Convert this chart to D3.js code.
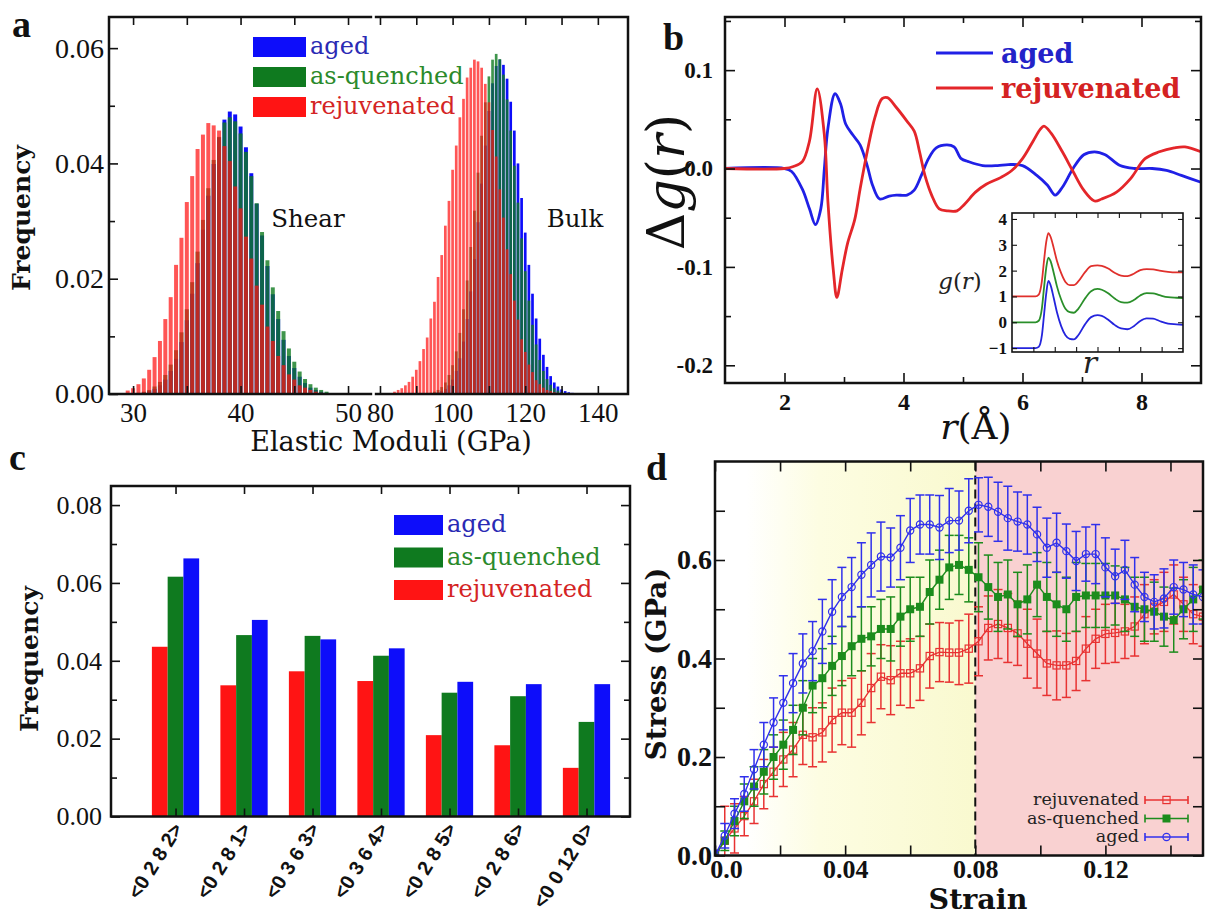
<!DOCTYPE html>
<html>
<head>
<meta charset="utf-8">
<script src="https://cdn.jsdelivr.net/npm/d3@7"></script>
<style>
  body { margin: 0; background: #fff; }
  svg { display: block; }
</style>
</head>
<body>
<svg id="fig" width="1206" height="917"></svg>
<script>
// ---- panel a: elastic moduli histograms (bin centres in GPa) ----
const shearBins = d3.range(29.5, 48.01, 0.5);
const bulkBins = d3.range(84, 136.5, 1);

const shearAged = [0, .0001, .0001, .0003, .0005, .0009, .0015, .0025, .0040, .0061, .0090, .0128, .0174, .0227,
  .0285, .0344, .0399, .0445, .0476, .0490, .0485, .0464, .0428, .0383, .0330, .0275, .0222, .0173, .0130, .0094,
  .0066, .0045, .0030, .0019, .0011, .0007, .0004, .0002];
const shearAsq = [.0001, .0001, .0002, .0004, .0007, .0013, .0021, .0033, .0051, .0076, .0107, .0147, .0194, .0247,
  .0302, .0357, .0406, .0446, .0471, .0480, .0473, .0452, .0420, .0378, .0331, .0281, .0232, .0185, .0144, .0109,
  .0079, .0056, .0039, .0026, .0017, .0011, .0007, .0004];
const shearRej = [.0006, .0010, .0017, .0027, .0042, .0064, .0092, .0130, .0168, .0224, .0271, .0333, .0378, .0425,
  .0450, .0470, .0466, .0457, .0430, .0404, .0360, .0322, .0273, .0235, .0188, .0155, .0117, .0092, .0066, .0050,
  .0034, .0025, .0015, .0011, .0007, .0004, .0002, .0001];

const bulkAged = [0, 0, 0, 0, 0, 0, 0, 0, 0, 0, 0, .0001, .0003, .0005, .0009, .0015, .0025, .0040, .0062, .0091,
  .0130, .0178, .0234, .0298, .0365, .0431, .0491, .0539, .0569, .0580, .0571, .0547, .0507, .0457, .0400, .0340,
  .0280, .0224, .0174, .0131, .0096, .0068, .0047, .0031, .0020, .0013, .0008, .0005, .0003, .0002, .0001, 0, 0];
const bulkAsq = [0, 0, 0, 0, 0, 0, 0, 0, 0, 0, .0002, .0004, .0007, .0012, .0020, .0033, .0050, .0074, .0106, .0147,
  .0197, .0255, .0318, .0384, .0448, .0506, .0551, .0580, .0590, .0581, .0554, .0511, .0457, .0396, .0332, .0270,
  .0213, .0162, .0120, .0086, .0059, .0040, .0026, .0016, .0010, .0006, .0003, .0002, .0001, 0, 0, 0, 0];
const bulkRej = [.0004, .0007, .0010, .0015, .0021, .0030, .0042, .0057, .0078, .0098, .0131, .0160, .0203, .0241,
  .0292, .0335, .0389, .0431, .0480, .0512, .0549, .0566, .0580, .0577, .0566, .0538, .0506, .0458, .0412, .0355,
  .0306, .0251, .0208, .0162, .0129, .0095, .0073, .0051, .0038, .0024, .0017, .0011, .0007, .0005, .0003, .0002,
  .0001, 0, 0, 0, 0, 0, 0];

// ---- panel b: delta g(r) ----
const dgAgedR = [1.0, 2.0, 2.12, 2.3, 2.42, 2.52, 2.61, 2.67, 2.73, 2.85, 2.94, 3.03, 3.15, 3.27, 3.39, 3.48, 3.6, 3.76,
  3.88, 4.06, 4.18, 4.3, 4.42, 4.55, 4.73, 4.85, 4.97, 5.09, 5.33, 5.58, 5.76, 6.0, 6.24, 6.42, 6.55, 6.67, 6.85, 7.03,
  7.21, 7.39, 7.64, 7.88, 8.18, 8.42, 8.67, 9.0];
const dgAged = [0, 0, -0.003, -0.021, -0.041, -0.057, -0.041, 0, 0.041, 0.076, 0.066, 0.045, 0.034, 0.024, 0.003,
  -0.017, -0.031, -0.028, -0.027, -0.027, -0.022, -0.007, 0.010, 0.021, 0.024, 0.022, 0.010, 0.007, 0.003, 0.003,
  0.004, 0.003, -0.007, -0.017, -0.027, -0.019, 0, 0.014, 0.017, 0.014, 0.003, 0, 0, -0.002, -0.007, -0.014];
const dgRejR = [1.0, 2.0, 2.15, 2.3, 2.42, 2.55, 2.67, 2.73, 2.82, 2.88, 2.97, 3.06, 3.18, 3.27, 3.39, 3.52, 3.64, 3.73,
  3.88, 4.06, 4.18, 4.27, 4.36, 4.48, 4.6, 4.73, 4.9, 5.03, 5.21, 5.39, 5.64, 5.82, 6.0, 6.18, 6.3, 6.36, 6.48, 6.67,
  6.85, 7.03, 7.21, 7.33, 7.58, 7.82, 8.06, 8.3, 8.55, 8.73, 9.0];
const dgRej = [0, 0, 0.002, 0.007, 0.028, 0.081, 0.034, -0.034, -0.103, -0.131, -0.103, -0.076, -0.052, -0.021, 0.017,
  0.052, 0.071, 0.072, 0.062, 0.048, 0.038, 0.017, -0.007, -0.028, -0.041, -0.043, -0.043, -0.036, -0.024, -0.016,
  -0.009, -0.002, 0.010, 0.028, 0.040, 0.043, 0.036, 0.017, -0.003, -0.022, -0.033, -0.031, -0.024, -0.010, 0.010,
  0.017, 0.021, 0.022, 0.017];

// inset g(r), drawn with vertical offsets -1 / 0 / +1
const gR = [1, 2.1, 2.25, 2.4, 2.5, 2.6, 2.7, 2.8, 2.95, 3.1, 3.3, 3.5, 3.7, 3.9, 4.1, 4.4, 4.7, 5.0, 5.2, 5.5, 5.8,
  6.1, 6.4, 6.7, 7.0, 7.3, 7.6, 7.9, 8.3, 8.7, 9.0];
const gAged = [0, 0, 0.05, 0.5, 1.3, 2.1, 2.6, 2.45, 1.95, 1.4, 0.85, 0.5, 0.36, 0.34, 0.5, 0.9, 1.2, 1.28, 1.25, 1.1,
  0.9, 0.76, 0.73, 0.85, 1.05, 1.15, 1.14, 1.05, 0.95, 0.92, 0.9];
const gAsq = [0, 0, 0.06, 0.55, 1.35, 2.1, 2.5, 2.38, 1.92, 1.4, 0.88, 0.52, 0.39, 0.37, 0.52, 0.9, 1.2, 1.29, 1.26,
  1.12, 0.92, 0.78, 0.76, 0.86, 1.04, 1.13, 1.12, 1.05, 0.97, 0.95, 0.94];
const gRej = [0, 0, 0.07, 0.6, 1.4, 2.1, 2.45, 2.32, 1.88, 1.38, 0.9, 0.56, 0.44, 0.44, 0.58, 0.92, 1.17, 1.2, 1.18,
  1.08, 0.92, 0.81, 0.79, 0.88, 1.02, 1.06, 1.05, 1.0, 0.95, 0.93, 0.93];
const gOffsets = [-1, 0, 1];

// ---- panel c: Voronoi index frequencies ----
const cCategories = ['<0 2 8 2>', '<0 2 8 1>', '<0 3 6 3>', '<0 3 6 4>', '<0 2 8 5>', '<0 2 8 6>', '<0 0 12 0>'];
const cAged = [0.0663, 0.0505, 0.0455, 0.0432, 0.0346, 0.0340, 0.0340];
const cAsq = [0.0616, 0.0466, 0.0464, 0.0413, 0.0318, 0.0309, 0.0243];
const cRej = [0.0436, 0.0337, 0.0373, 0.0348, 0.0209, 0.0183, 0.0125];

// ---- panel d: stress-strain with error bars ----
const strain = d3.range(0, 0.1501, 0.003);
const stressAged = [0, .04, .085, .125, .175, .225, .27, .31, .35, .39, .415, .455, .495, .525, .545, .57, .59, .607,
  .605, .625, .66, .672, .672, .666, .68, .68, .70, .712, .708, .698, .685, .678, .672, .652, .625, .635, .618, .598,
  .612, .612, .585, .567, .58, .55, .525, .515, .522, .545, .54, .53, .525];
const stressAsq = [0, .03, .07, .11, .14, .17, .20, .225, .255, .30, .345, .36, .385, .405, .425, .44, .445, .46, .46,
  .485, .50, .505, .535, .56, .585, .59, .58, .565, .545, .525, .53, .51, .52, .55, .525, .51, .50, .525, .528, .528,
  .528, .528, .52, .505, .50, .495, .485, .478, .50, .52, .54];
const stressRej = [0, .03, .055, .08, .11, .145, .17, .195, .215, .245, .24, .25, .275, .29, .29, .31, .34, .363, .356,
  .37, .37, .38, .405, .413, .412, .412, .42, .435, .462, .47, .462, .451, .43, .41, .39, .386, .386, .395, .42, .44,
  .45, .452, .455, .465, .49, .505, .515, .53, .51, .49, .485];
const errAged = [.01, .025, .03, .035, .04, .045, .05, .055, .06, .06, .06, .065, .065, .06, .06, .065, .065, .07, .06,
  .065, .065, .06, .06, .065, .065, .06, .065, .055, .06, .06, .065, .06, .06, .055, .06, .06, .055, .06, .055, .06,
  .06, .055, .06, .055, .05, .055, .06, .055, .055, .06, .055];
const errAsq = [.01, .02, .03, .035, .04, .045, .045, .05, .05, .055, .055, .06, .06, .06, .06, .065, .06, .06, .065,
  .06, .065, .06, .065, .06, .065, .06, .065, .07, .065, .07, .07, .065, .07, .065, .07, .065, .065, .07, .065, .065,
  .065, .06, .065, .06, .065, .06, .06, .065, .06, .065, .06];
const errRej = [.01, .07, .05, .04, .045, .05, .05, .055, .055, .06, .06, .06, .065, .065, .07, .065, .07, .065, .07,
  .065, .07, .065, .065, .06, .06, .065, .07, .07, .065, .07, .07, .065, .07, .07, .065, .07, .065, .06, .065, .06,
  .06, .06, .055, .06, .06, .055, .06, .06, .055, .06, .06];

const seriesNames = ['aged', 'as-quenched', 'rejuvenated'];

// ---------------------------------------------------------------
const SERIF = "'DejaVu Serif', serif";
const NUM = "'Liberation Serif', 'Times New Roman', serif";
const SANS = "'Liberation Sans', Arial, sans-serif";
const FILL = ['#0d0dfa', '#0f7a1f', '#ff1414'];
const TEXT = ['#2a2ab4', '#2b8a2b', '#d42424'];

const svg = d3.select('#fig');

function styleAxis(g, size, weight) {
  g.select('.domain').remove();
  g.selectAll('.tick line').attr('stroke', '#111').attr('stroke-width', 1.6);
  g.selectAll('.tick text')
    .attr('font-family', NUM)
    .attr('font-size', size)
    .attr('font-weight', weight)
    .attr('fill', '#111');
  return g;
}

function frame(g, x0, y0, x1, y1, w) {
  g.append('rect')
    .attr('x', x0).attr('y', y0)
    .attr('width', x1 - x0).attr('height', y1 - y0)
    .attr('fill', 'none').attr('stroke', '#111').attr('stroke-width', w || 2.5);
}

function panelLetter(ch, x, y) {
  svg.append('text').attr('x', x).attr('y', y).text(ch)
    .attr('font-family', NUM).attr('font-weight', 'bold').attr('font-size', 38).attr('fill', '#111');
}

function vLabel(g, x, y, size, weight) {
  return g.append('text')
    .attr('transform', `translate(${x},${y}) rotate(-90)`)
    .attr('text-anchor', 'middle')
    .attr('font-family', SERIF).attr('font-size', size).attr('font-weight', weight).attr('fill', '#111');
}

// =================== panel a ===================
(function () {
  const g = svg.append('g');
  const y = d3.scaleLinear().domain([0, 0.0654]).range([394, 17]);
  const xL = d3.scaleLinear().domain([27.76, 52.23]).range([109, 372]);
  const xR = d3.scaleLinear().domain([78.63, 148.3]).range([375, 628]);

  function hist(x, bins, values, step, color, opacity) {
    const w = (x(step) - x(0)) * 0.74;
    g.append('g').selectAll('rect').data(values).join('rect')
      .attr('x', (d, i) => x(bins[i]) - w / 2)
      .attr('y', d => y(d))
      .attr('width', w)
      .attr('height', d => y(0) - y(d))
      .attr('fill', color).attr('fill-opacity', opacity);
  }
  const opac = [1, 0.8, 0.72];
  [shearAged, shearAsq, shearRej].forEach((v, k) => hist(xL, shearBins, v, 0.5, FILL[k], opac[k]));
  [bulkAged, bulkAsq, bulkRej].forEach((v, k) => hist(xR, bulkBins, v, 1, FILL[k], opac[k]));

  // axes
  const lab10 = d => (d % 10 === 0 ? d : '');
  const labR = d => ([80, 100, 120, 140].includes(d) ? d : '');
  styleAxis(g.append('g').attr('transform', 'translate(0,394)')
    .call(d3.axisBottom(xL).tickValues([30, 35, 40, 45, 50]).tickSize(-8).tickPadding(9).tickFormat(lab10)), 27, 'normal');
  styleAxis(g.append('g').attr('transform', 'translate(0,394)')
    .call(d3.axisBottom(xR).tickValues([80, 90, 100, 110, 120, 130, 140]).tickSize(-8).tickPadding(9).tickFormat(labR)), 27, 'normal');
  styleAxis(g.append('g').attr('transform', 'translate(0,17)')
    .call(d3.axisTop(xL).tickValues([30, 35, 40, 45, 50]).tickSize(-8).tickFormat('')), 10, 'normal');
  styleAxis(g.append('g').attr('transform', 'translate(0,17)')
    .call(d3.axisTop(xR).tickValues([80, 90, 100, 110, 120, 130, 140]).tickSize(-8).tickFormat('')), 10, 'normal');
  styleAxis(g.append('g').attr('transform', 'translate(109,0)')
    .call(d3.axisLeft(y).tickValues([0, 0.02, 0.04, 0.06]).tickSize(-9).tickPadding(5).tickFormat(d => d.toFixed(2))), 28, 'normal');
  styleAxis(g.append('g').attr('transform', 'translate(109,0)')
    .call(d3.axisLeft(y).tickValues([0.01, 0.03, 0.05]).tickSize(-6).tickFormat('')), 10, 'normal');

  frame(g, 109, 17, 628, 394);
  // axis break between the two scales
  g.append('rect').attr('x', 372.2).attr('y', 13).attr('width', 2.6).attr('height', 8).attr('fill', '#fff');
  g.append('rect').attr('x', 372.2).attr('y', 390).attr('width', 2.6).attr('height', 8).attr('fill', '#fff');

  // legend
  seriesNames.forEach((name, k) => {
    g.append('rect').attr('x', 253).attr('y', 37 + k * 30).attr('width', 53).attr('height', 20).attr('fill', FILL[k]);
    g.append('text').attr('x', 310).attr('y', 54 + k * 30).text(name)
      .attr('font-family', SERIF).attr('font-size', 24).attr('fill', TEXT[k]);
  });
  g.append('text').attr('x', 308).attr('y', 227).attr('text-anchor', 'middle').text('Shear')
    .attr('font-family', SERIF).attr('font-size', 24.5).attr('fill', '#111');
  g.append('text').attr('x', 575).attr('y', 227).attr('text-anchor', 'middle').text('Bulk')
    .attr('font-family', SERIF).attr('font-size', 24.5).attr('fill', '#111');

  g.append('text').attr('x', 391).attr('y', 451).attr('text-anchor', 'middle').text('Elastic Moduli (GPa)')
    .attr('font-family', SERIF).attr('font-size', 27).attr('fill', '#111');
  vLabel(g, 30, 218, 25, 'bold').text('Frequency');
  panelLetter('a', 12, 37);
})();

// =================== panel b ===================
(function () {
  const g = svg.append('g');
  const x = d3.scaleLinear().domain([1, 9]).range([725, 1201]);
  const y = d3.scaleLinear().domain([-0.218, 0.154]).range([383, 17]);
  const line = d3.line().x(d => x(d[0])).y(d => y(d[1])).curve(d3.curveCatmullRom.alpha(0.5));

  g.append('path').datum(dgAgedR.map((r, i) => [r, dgAged[i]])).attr('d', line)
    .attr('fill', 'none').attr('stroke', '#2020e6').attr('stroke-width', 2.8);
  g.append('path').datum(dgRejR.map((r, i) => [r, dgRej[i]])).attr('d', line)
    .attr('fill', 'none').attr('stroke', '#e4262a').attr('stroke-width', 2.8);

  styleAxis(g.append('g').attr('transform', 'translate(0,383)')
    .call(d3.axisBottom(x).tickValues([2, 4, 6, 8]).tickSize(-10).tickPadding(10)), 24, 'bold');
  styleAxis(g.append('g').attr('transform', 'translate(0,383)')
    .call(d3.axisBottom(x).tickValues([3, 5, 7]).tickSize(-6).tickFormat('')), 10, 'bold');
  styleAxis(g.append('g').attr('transform', 'translate(0,17)')
    .call(d3.axisTop(x).tickValues([2, 4, 6, 8]).tickSize(-10).tickFormat('')), 10, 'bold');
  styleAxis(g.append('g').attr('transform', 'translate(0,17)')
    .call(d3.axisTop(x).tickValues([3, 5, 7]).tickSize(-6).tickFormat('')), 10, 'bold');
  styleAxis(g.append('g').attr('transform', 'translate(725,0)')
    .call(d3.axisLeft(y).tickValues([-0.2, -0.1, 0, 0.1]).tickSize(-10).tickPadding(12).tickFormat(d => d.toFixed(1))), 23, 'bold');
  styleAxis(g.append('g').attr('transform', 'translate(725,0)')
    .call(d3.axisLeft(y).tickValues([-0.15, -0.05, 0.05, 0.15]).tickSize(-6).tickFormat('')), 10, 'bold');
  styleAxis(g.append('g').attr('transform', 'translate(1201,0)')
    .call(d3.axisRight(y).tickValues([-0.2, -0.1, 0, 0.1]).tickSize(-10).tickFormat('')), 10, 'bold');
  styleAxis(g.append('g').attr('transform', 'translate(1201,0)')
    .call(d3.axisRight(y).tickValues([-0.15, -0.05, 0.05, 0.15]).tickSize(-6).tickFormat('')), 10, 'bold');
  frame(g, 725, 17, 1201, 383);

  // legend
  [['aged', '#2020e6', '#2323c8'], ['rejuvenated', '#e4262a', '#d42222']].forEach((d, k) => {
    g.append('line').attr('x1', 936).attr('x2', 993).attr('y1', 53 + k * 35).attr('y2', 53 + k * 35)
      .attr('stroke', d[1]).attr('stroke-width', 3);
    g.append('text').attr('x', 1001).attr('y', 63 + k * 35).text(d[0])
      .attr('font-family', SERIF).attr('font-weight', 'bold').attr('font-size', 27).attr('fill', d[2]);
  });

  // axis titles
  const yl = vLabel(g, 684, 182, 52, 'normal');
  yl.append('tspan').text('Δ');
  yl.append('tspan').attr('font-style', 'italic').text('g');
  yl.append('tspan').text('(');
  yl.append('tspan').attr('font-style', 'italic').text('r');
  yl.append('tspan').text(')');
  const xl = g.append('text').attr('x', 976).attr('y', 439).attr('text-anchor', 'middle')
    .attr('font-family', SERIF).attr('font-size', 36).attr('fill', '#111');
  xl.append('tspan').attr('font-style', 'italic').text('r');
  xl.append('tspan').text('(Å)');

  // inset
  const ix = d3.scaleLinear().domain([1, 9]).range([1012, 1183]);
  const iy = d3.scaleLinear().domain([-1.15, 4.23]).range([352, 213]);
  g.append('rect').attr('x', 1012).attr('y', 213).attr('width', 171).attr('height', 139).attr('fill', '#fff');
  const iline = d3.line().x(d => ix(d[0])).y(d => iy(d[1])).curve(d3.curveMonotoneX);
  [gAged, gAsq, gRej].forEach((vals, k) => {
    g.append('path').datum(gR.map((r, i) => [r, vals[i] + gOffsets[k]])).attr('d', iline)
      .attr('fill', 'none').attr('stroke', ['#2424dd', '#2a8f2a', '#e0302c'][k]).attr('stroke-width', 1.8);
  });
  const iAx = (sel) => sel.selectAll('.tick line').attr('stroke-width', 1.1);
  styleAxis(g.append('g').attr('transform', 'translate(1012,0)')
    .call(d3.axisLeft(iy).tickValues([-1, 0, 1, 2, 3, 4]).tickSize(-5).tickPadding(5).tickFormat(d3.format('d'))), 17, 'bold').call(iAx);
  styleAxis(g.append('g').attr('transform', 'translate(1183,0)')
    .call(d3.axisRight(iy).tickValues([-1, 0, 1, 2, 3, 4]).tickSize(-5).tickFormat('')), 10, 'bold').call(iAx);
  styleAxis(g.append('g').attr('transform', 'translate(0,352)')
    .call(d3.axisBottom(ix).tickValues([2, 3, 4, 5, 6, 7, 8]).tickSize(-5).tickFormat('')), 10, 'bold').call(iAx);
  styleAxis(g.append('g').attr('transform', 'translate(0,213)')
    .call(d3.axisTop(ix).tickValues([2, 3, 4, 5, 6, 7, 8]).tickSize(-5).tickFormat('')), 10, 'bold').call(iAx);
  frame(g, 1012, 213, 1183, 352, 1.6);
  const gl = g.append('text').attr('x', 960).attr('y', 289).attr('text-anchor', 'middle')
    .attr('font-family', SERIF).attr('font-size', 23).attr('fill', '#222');
  gl.append('tspan').attr('font-style', 'italic').text('g');
  gl.append('tspan').text('(');
  gl.append('tspan').attr('font-style', 'italic').text('r');
  gl.append('tspan').text(')');
  g.append('text').attr('x', 1090).attr('y', 373).attr('text-anchor', 'middle').text('r')
    .attr('font-family', SERIF).attr('font-style', 'italic').attr('font-size', 30).attr('fill', '#222');

  panelLetter('b', 663, 50);
})();

// =================== panel c ===================
(function () {
  const g = svg.append('g');
  const x = d3.scaleLinear().domain([-0.942, 6.635]).range([111, 630]);
  const y = d3.scaleLinear().domain([0, 0.0849]).range([816.5, 486]);
  const bw = 0.23;
  [cRej, cAsq, cAged].forEach((vals, k) => {
    const color = FILL[2 - k];
    g.append('g').selectAll('rect').data(vals).join('rect')
      .attr('x', (d, i) => x(i - 1.5 * bw + k * bw))
      .attr('y', d => y(d))
      .attr('width', x(bw) - x(0))
      .attr('height', d => y(0) - y(d))
      .attr('fill', color);
  });
  const idx = d3.range(cCategories.length);
  styleAxis(g.append('g').attr('transform', 'translate(0,816.5)')
    .call(d3.axisBottom(x).tickValues(idx).tickSize(-8).tickFormat('')), 10, 'normal');
  styleAxis(g.append('g').attr('transform', 'translate(0,486)')
    .call(d3.axisTop(x).tickValues(idx).tickSize(-8).tickFormat('')), 10, 'normal');
  styleAxis(g.append('g').attr('transform', 'translate(111,0)')
    .call(d3.axisLeft(y).tickValues([0, 0.02, 0.04, 0.06, 0.08]).tickSize(-9).tickPadding(9).tickFormat(d => d.toFixed(2))), 26, 'normal');
  styleAxis(g.append('g').attr('transform', 'translate(111,0)')
    .call(d3.axisLeft(y).tickValues([0.01, 0.03, 0.05, 0.07]).tickSize(-6).tickFormat('')), 10, 'normal');
  styleAxis(g.append('g').attr('transform', 'translate(630,0)')
    .call(d3.axisRight(y).tickValues([0, 0.02, 0.04, 0.06, 0.08]).tickSize(-9).tickFormat('')), 10, 'normal');
  styleAxis(g.append('g').attr('transform', 'translate(630,0)')
    .call(d3.axisRight(y).tickValues([0.01, 0.03, 0.05, 0.07]).tickSize(-6).tickFormat('')), 10, 'normal');
  frame(g, 111, 486, 630, 816.5);

  g.append('g').selectAll('text').data(cCategories).join('text')
    .attr('transform', (d, i) => `translate(${x(i) + 2},${825}) rotate(-58)`)
    .attr('text-anchor', 'end')
    .attr('dy', '0.35em')
    .attr('font-family', SANS).attr('font-weight', 'bold').attr('font-size', 20).attr('fill', '#111')
    .text(d => d);

  seriesNames.forEach((name, k) => {
    g.append('rect').attr('x', 394).attr('y', 515 + k * 32.5).attr('width', 49).attr('height', 20).attr('fill', FILL[k]);
    g.append('text').attr('x', 447).attr('y', 532 + k * 32.5).text(name)
      .attr('font-family', SERIF).attr('font-size', 24).attr('fill', TEXT[k]);
  });
  vLabel(g, 38, 659, 25, 'bold').text('Frequency');
  panelLetter('c', 9, 470);
})();

// =================== panel d ===================
(function () {
  const g = svg.append('g');
  const x = d3.scaleLinear().domain([0, 0.15]).range([715, 1203]);
  const y = d3.scaleLinear().domain([0, 0.8]).range([855.5, 461.5]);
  const defs = svg.append('defs');
  const grad = defs.append('linearGradient').attr('id', 'yellowFade').attr('x1', '0%').attr('x2', '100%');
  [[0, '#ffffff'], [0.12, '#ffffff'], [0.4, '#fdfde2'], [1, '#f9f9cf']].forEach(s =>
    grad.append('stop').attr('offset', s[0]).attr('stop-color', s[1]));
  defs.append('clipPath').attr('id', 'dclip').append('rect')
    .attr('x', 715).attr('y', 461.5).attr('width', 488).attr('height', 394);

  g.append('rect').attr('x', x(0)).attr('y', y(0.8)).attr('width', x(0.08) - x(0)).attr('height', y(0) - y(0.8))
    .attr('fill', 'url(#yellowFade)');
  g.append('rect').attr('x', x(0.08)).attr('y', y(0.8)).attr('width', x(0.15) - x(0.08)).attr('height', y(0) - y(0.8))
    .attr('fill', '#f9d1d1');
  g.append('line').attr('x1', x(0.08)).attr('x2', x(0.08)).attr('y1', y(0.8)).attr('y2', y(0))
    .attr('stroke', '#111').attr('stroke-width', 2).attr('stroke-dasharray', '9,5');

  const plot = g.append('g').attr('clip-path', 'url(#dclip)');
  const colors = ['#3030ec', '#1c8c1c', '#e83232'];
  const sets = [[stressRej, errRej, 2], [stressAsq, errAsq, 1], [stressAged, errAged, 0]];
  const cap = 4.5;

  function marker(sel, k) {
    if (k === 0) {
      sel.append('circle').attr('r', 3.6).attr('fill', 'none').attr('stroke', colors[0]).attr('stroke-width', 1.2);
    } else if (k === 1) {
      sel.append('rect').attr('x', -4).attr('y', -4).attr('width', 8).attr('height', 8).attr('fill', colors[1]);
    } else {
      sel.append('rect').attr('x', -3.6).attr('y', -3.6).attr('width', 7.2).attr('height', 7.2)
        .attr('fill', 'none').attr('stroke', colors[2]).attr('stroke-width', 1.2);
    }
  }

  sets.forEach(([vals, errs, k]) => {
    const pts = strain.map((s, i) => ({ s, v: vals[i], e: errs[i] }));
    const sg = plot.append('g');
    sg.append('path').datum(pts)
      .attr('d', d3.line().x(d => x(d.s)).y(d => y(d.v)))
      .attr('fill', 'none').attr('stroke', colors[k]).attr('stroke-width', 1.4);
    const eb = sg.selectAll('g.eb').data(pts).join('g').attr('class', 'eb')
      .attr('stroke', colors[k]).attr('stroke-width', 1.5);
    eb.append('line').attr('x1', d => x(d.s)).attr('x2', d => x(d.s))
      .attr('y1', d => y(d.v - d.e)).attr('y2', d => y(d.v + d.e));
    eb.append('line').attr('x1', d => x(d.s) - cap).attr('x2', d => x(d.s) + cap)
      .attr('y1', d => y(d.v - d.e)).attr('y2', d => y(d.v - d.e));
    eb.append('line').attr('x1', d => x(d.s) - cap).attr('x2', d => x(d.s) + cap)
      .attr('y1', d => y(d.v + d.e)).attr('y2', d => y(d.v + d.e));
    const mk = sg.selectAll('g.mk').data(pts).join('g').attr('class', 'mk')
      .attr('transform', d => `translate(${x(d.s)},${y(d.v)})`);
    marker(mk, k);
  });

  const xt = [0, 0.02, 0.04, 0.06, 0.08, 0.10, 0.12, 0.14];
  const yt = [0, 0.1, 0.2, 0.3, 0.4, 0.5, 0.6, 0.7];
  const xb = styleAxis(g.append('g').attr('transform', 'translate(0,855.5)')
    .call(d3.axisBottom(x).tickValues(xt).tickSize(-10).tickPadding(4)
      .tickFormat(d => (d === 0 ? '0.0' : [0.04, 0.08, 0.12].includes(d) ? d.toFixed(2) : ''))), 26, 'bold');
  xb.selectAll('.tick text').filter(d => d === 0).attr('dx', 11);
  styleAxis(g.append('g').attr('transform', 'translate(0,461.5)')
    .call(d3.axisTop(x).tickValues(xt).tickSize(-10).tickFormat('')), 10, 'bold');
  styleAxis(g.append('g').attr('transform', 'translate(715,0)')
    .call(d3.axisLeft(y).tickValues(yt).tickSize(-10).tickPadding(3)
      .tickFormat(d => ([0, 0.2, 0.4, 0.6].includes(d) ? d.toFixed(1) : ''))), 28, 'bold');
  styleAxis(g.append('g').attr('transform', 'translate(1203,0)')
    .call(d3.axisRight(y).tickValues(yt).tickSize(-10).tickFormat('')), 10, 'bold');
  frame(g, 715, 461.5, 1203, 855.5);

  // legend
  const legend = [['rejuvenated', 2], ['as-quenched', 1], ['aged', 0]];
  legend.forEach(([name, k], j) => {
    const yy = 800 + j * 18.5;
    g.append('text').attr('x', 1139).attr('y', yy + 5).attr('text-anchor', 'end').text(name)
      .attr('font-family', SERIF).attr('font-size', 17.5).attr('fill', '#222');
    const lg = g.append('g').attr('stroke', colors[k]).attr('stroke-width', 1.6);
    lg.append('line').attr('x1', 1145).attr('x2', 1188).attr('y1', yy).attr('y2', yy);
    lg.append('line').attr('x1', 1145).attr('x2', 1145).attr('y1', yy - 4).attr('y2', yy + 4);
    lg.append('line').attr('x1', 1188).attr('x2', 1188).attr('y1', yy - 4).attr('y2', yy + 4);
    const m = g.append('g').attr('transform', `translate(1166.5,${yy})`);
    marker(m, k);
  });

  g.append('text').attr('x', 978).attr('y', 909).attr('text-anchor', 'middle').text('Strain')
    .attr('font-family', SERIF).attr('font-weight', 'bold').attr('font-size', 28.5).attr('fill', '#111');
  vLabel(g, 666, 664, 27.5, 'bold').text('Stress (GPa)');
  panelLetter('d', 646, 480);
})();
</script>
</body>
</html>
